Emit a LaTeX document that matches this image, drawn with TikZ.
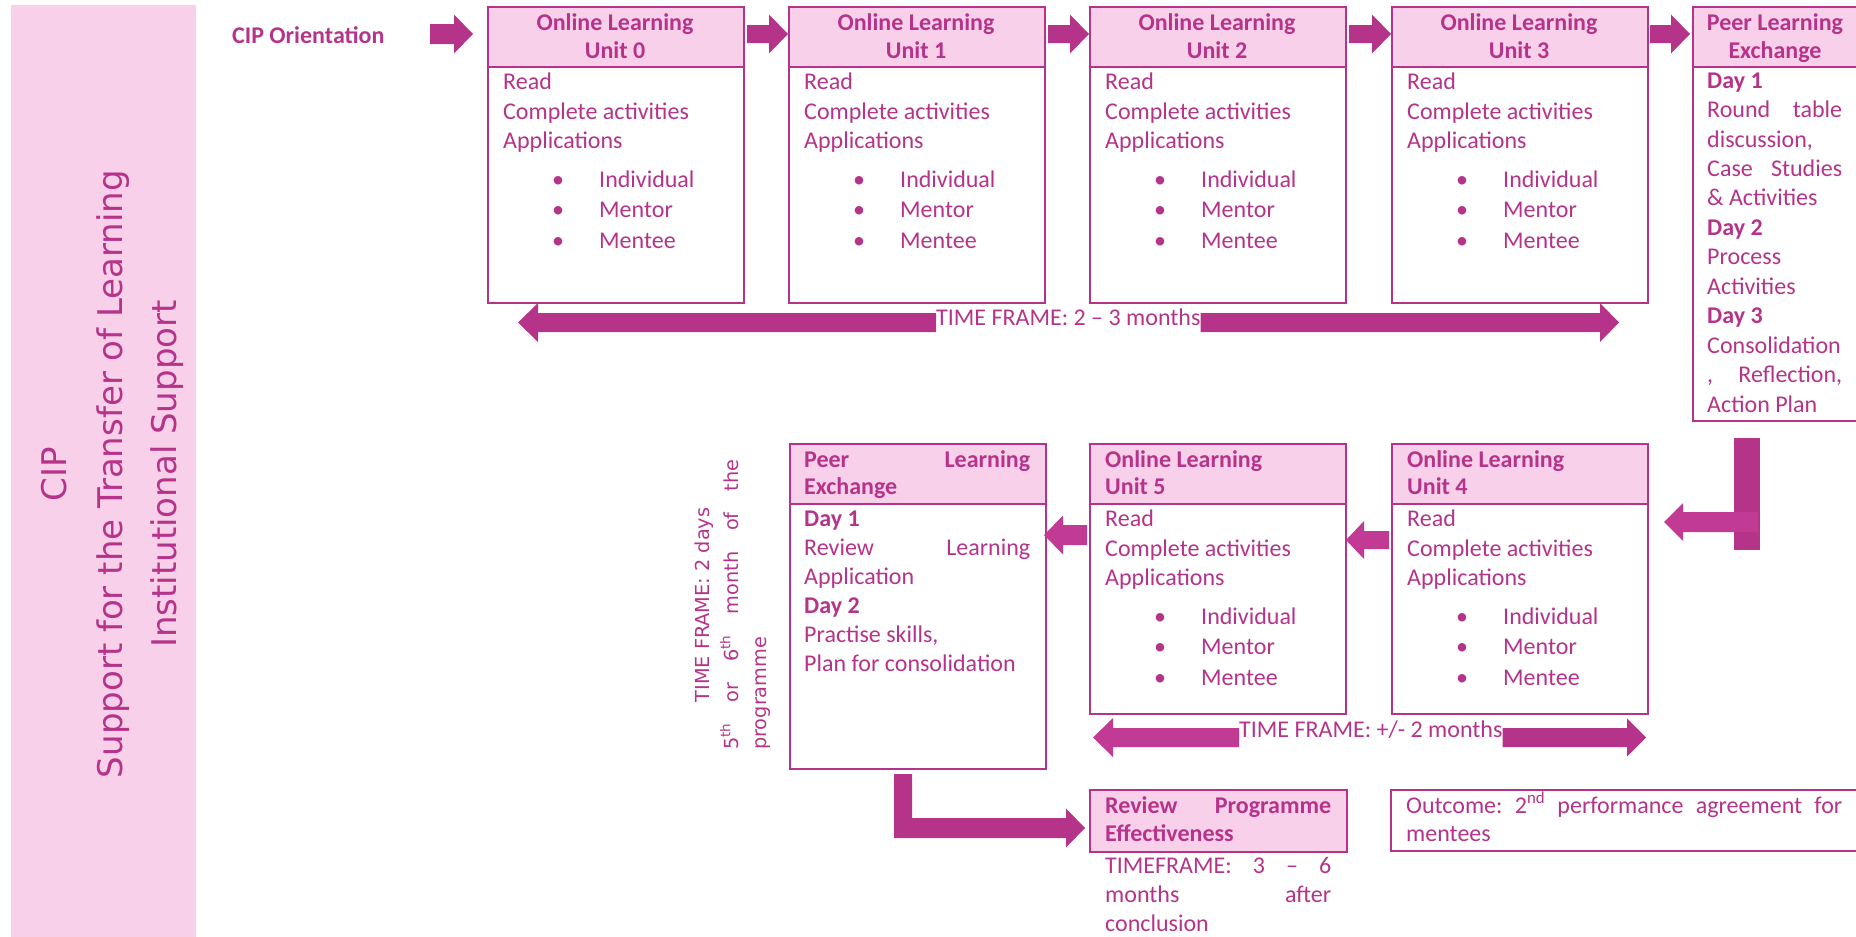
\documentclass[tikz,border=0pt]{standalone}
\usepackage{fontspec}
\setmainfont{Carlito}
\newfontfamily\vfont{DejaVu Sans}
\usetikzlibrary{calc}
\definecolor{mag}{RGB}{181,52,138}
\definecolor{magL}{RGB}{193,58,148}
\definecolor{pinkf}{RGB}{248,208,234}
\tikzset{
  boxbody/.style={draw=mag, line width=2pt, fill=white, rectangle, inner sep=0pt, minimum width=256pt, anchor=north west},
  boxhead/.style={draw=mag, line width=2pt, fill=pinkf, rectangle, inner sep=0pt, minimum width=256pt, minimum height=60pt, anchor=north west},
  txt/.style={text=mag, inner sep=0pt, font=\fontsize{24}{29}\selectfont, anchor=base west},
  btxt/.style={txt, font=\fontsize{24}{29}\selectfont\bfseries},
  sidetxt/.style={text=mag, inner sep=0pt, font=\vfont\fontsize{34}{40}\selectfont, rotate=90, anchor=base},
  vtxt/.style={text=mag, inner sep=0pt, font=\vfont\fontsize{19.3}{24}\selectfont, rotate=90, anchor=base west},
  arrA/.style={fill=mag},
  arrB/.style={fill=magL},
}
% #2 tail, #3 tip, #4 shaft half width, #5 head half width, #6 head length (negative = pointing left)
\newcommand\blockarrow[6][arrA]{\fill[#1] ($(#2)+(0,{-(#4)})$) -- ($(#3)+({-(#6)},{-(#4)})$) -- ($(#3)+({-(#6)},{-(#5)})$) -- (#3) -- ($(#3)+({-(#6)},{#5})$) -- ($(#3)+({-(#6)},{#4})$) -- ($(#2)+(0,{#4})$) -- cycle;}
\newcommand\unitbody[3]{%
  \node[txt] (#1r) at ({#2+16},{#3+83}) {Read};
  \node[txt] (#1c) at ({#2+16},{#3+113}) {Complete activities};
  \node[txt] (#1a) at ({#2+16},{#3+142}) {Applications};
  \node[txt,anchor=base] (#1b1) at ({#2+71},{#3+181}) {•};
  \node[txt] (#1i) at ({#2+112},{#3+181}) {Individual};
  \node[txt,anchor=base] (#1b2) at ({#2+71},{#3+211}) {•};
  \node[txt] (#1m) at ({#2+112},{#3+211}) {Mentor};
  \node[txt,anchor=base] (#1b3) at ({#2+71},{#3+242}) {•};
  \node[txt] (#1e) at ({#2+112},{#3+242}) {Mentee};
}
\begin{document}
\begin{tikzpicture}[x=1pt,y=-1pt]
\useasboundingbox (0,0) rectangle (1856,937);
\clip (0,0) rectangle (1856,937);

% side bar
\node[fill=pinkf, rectangle, inner sep=0pt, minimum width=185pt, minimum height=940pt, anchor=north west] (side) at (11,5) {};
\node[sidetxt] (sideA) at (66,474) {CIP};
\node[sidetxt] (sideB) at (122,474) {Support for the Transfer of Learning};
\node[sidetxt] (sideC) at (176,474) {Institutional Support};

\node[btxt] (cip) at (232,43) {CIP Orientation};

% top row units
\foreach \nm/\x/\k in {u0/487/0,u1/788/1,u2/1089/2,u3/1391/3}{
  \node[boxbody, minimum height=296pt] (\nm) at (\x,6) {};
  \node[boxhead] (\nm h) at (\x,6) {};
  \node[btxt, anchor=base] (\nm t1) at ({\x+128},30) {Online Learning};
  \node[btxt, anchor=base] (\nm t2) at ({\x+128},58) {Unit \k};
  \unitbody{\nm}{\x}{6}
}

% peer learning exchange (top)
\node[boxbody, minimum width=168pt, minimum height=414pt] (p1) at (1692,6) {};
\node[boxhead, minimum width=168pt] (p1h) at (1692,6) {};
\node[btxt, anchor=base] (p1t1) at (1775,30) {Peer Learning};
\node[btxt, anchor=base] (p1t2) at (1775,58) {Exchange};
\node[btxt] (p1d1) at (1707,88) {Day 1};
\node[txt] (p1l1) at (1707,117.5) {\hbox to 135pt{Round\hfill table}};
\node[txt] (p1l2) at (1707,147) {discussion,};
\node[txt] (p1l3) at (1707,176.4) {\hbox to 135pt{Case\hfill Studies}};
\node[txt] (p1l4) at (1707,205.8) {\& Activities};
\node[btxt] (p1d2) at (1707,235.3) {Day 2};
\node[txt] (p1l5) at (1707,264.7) {Process};
\node[txt] (p1l6) at (1707,294.2) {Activities};
\node[btxt] (p1d3) at (1707,323.6) {Day 3};
\node[txt] (p1l7) at (1707,353) {Consolidation};
\node[txt] (p1l8) at (1707,382.5) {\hbox to 135pt{,\hfill Reflection,}};
\node[txt] (p1l9) at (1707,412) {Action Plan};

% top row arrows
\coordinate (a1s) at ($(u0h.west)+(-57,-3)$);
\coordinate (a1e) at ($(u0h.west)+(-14,-3)$);
\blockarrow{a1s}{a1e}{10}{19.5}{19}
\foreach \a/\b in {u0/u1,u1/u2,u2/u3}{
  \coordinate (\a s) at ($(\a h.east)+(2,-3)$);
  \coordinate (\b e) at ($(\b h.west)+(0,-3)$);
  \blockarrow{\a s}{\b e}{9}{19.5}{19}
}
\coordinate (u3s) at ($(u3h.east)+(1,-3)$);
\coordinate (p1e) at ($(p1h.west)+(-2,-3)$);
\blockarrow{u3s}{p1e}{9}{19.5}{19}

% time frame top
\node[txt] (tf1) at (936,325) {TIME FRAME: 2 – 3 months};
\coordinate (tf1a) at ($(tf1.base west)+(0,-2.5)$);
\coordinate (tf1b) at ($(tf1.base west -| u0.west)+(31,-2.5)$);
\blockarrow{tf1a}{tf1b}{9.5}{19.5}{-20}
\coordinate (tf1c) at ($(tf1.base east)+(0,-2.5)$);
\coordinate (tf1d) at ($(tf1.base east -| u3.east)+(-30,-2.5)$);
\blockarrow{tf1c}{tf1d}{9.5}{19.5}{19}

% second row units
\node[boxbody, minimum height=270pt] (u4) at (1391,443) {};
\node[boxhead] (u4h) at (1391,443) {};
\node[btxt] (u4t1) at (1407,467) {Online Learning};
\node[btxt] (u4t2) at (1407,494) {Unit 4};
\unitbody{u4}{1391}{443}
\node[boxbody, minimum height=270pt] (u5) at (1089,443) {};
\node[boxhead] (u5h) at (1089,443) {};
\node[btxt] (u5t1) at (1105,467) {Online Learning};
\node[btxt] (u5t2) at (1105,494) {Unit 5};
\unitbody{u5}{1089}{443}

% peer learning exchange (second)
\node[boxbody, minimum height=325pt] (p2) at (789,443) {};
\node[boxhead] (p2h) at (789,443) {};
\node[btxt] (p2t1) at (804,467) {\hbox to 226pt{Peer\hfill Learning}};
\node[btxt] (p2t2) at (804,494) {Exchange};
\node[btxt] (p2d1) at (804,526) {Day 1};
\node[txt] (p2l1) at (804,555) {\hbox to 226pt{Review\hfill Learning}};
\node[txt] (p2l2) at (804,584) {Application};
\node[btxt] (p2d2) at (804,613) {Day 2};
\node[txt] (p2l3) at (804,642) {Practise skills,};
\node[txt] (p2l4) at (804,671) {Plan for consolidation};

% vertical time frame text
\node[vtxt, anchor=base] (vt1) at (709,605) {TIME FRAME: 2 days};
\node[vtxt] (vt2) at (738,750) {\hbox to 290pt{5\textsuperscript{th}\hfill or\hfill 6\textsuperscript{th}\hfill month\hfill of\hfill the}};
\node[vtxt] (vt3) at (766,750) {programme};

% bracket arrow from top peer box to unit 4
\fill[arrA] ($(p1.south)+(-43,16)$) rectangle ($(p1.south)+(-17,128)$);
\coordinate (br1) at ($(p1.south)+(-19,100)$);
\coordinate (br2) at ($(u4.east |- br1)+(15,0)$);
\blockarrow[arrB]{br1}{br2}{10}{19}{-19}

% second row arrows
\coordinate (r1s) at ($(u4.west)+(-2,-39)$);
\coordinate (r1e) at ($(u5.east)+(-1,-39)$);
\blockarrow[arrB]{r1s}{r1e}{9}{19}{-18}
\coordinate (r2s) at ($(u5.west)+(-2,-44)$);
\coordinate (r2e) at ($(p2.east)+(-3,-71.5)$);
\blockarrow[arrB]{r2s}{r2e}{10}{19.5}{-19}

% time frame second
\node[txt] (tf2) at (1239,737) {TIME FRAME: +/- 2 months};
\coordinate (tf2a) at ($(tf2.base west)+(0,0.5)$);
\coordinate (tf2b) at ($(tf2.base west -| u5.west)+(4,0.5)$);
\blockarrow[arrB]{tf2a}{tf2b}{9.5}{19.5}{-20}
\coordinate (tf2c) at ($(tf2.base east)+(0,0.5)$);
\coordinate (tf2d) at ($(tf2.base east -| u4.east)+(-3,0.5)$);
\blockarrow{tf2c}{tf2d}{9.5}{19}{19}

% review box
\node[boxhead, minimum width=257pt, minimum height=62pt] (rv) at (1089,789) {};
\node[btxt] (rvt1) at (1105,813) {\hbox to 226pt{Review\hfill Programme}};
\node[btxt] (rvt2) at (1105,841) {Effectiveness};
\node[txt] (rvl1) at (1105,873) {\hbox to 226pt{TIMEFRAME:\hfill 3\hfill –\hfill 6}};
\node[txt] (rvl2) at (1105,902) {\hbox to 226pt{months\hfill after}};
\node[txt] (rvl3) at (1105,931) {conclusion};

% L arrow peer 2 -> review
\coordinate (lA) at ($(p2.south)+(-24,4)$);
\coordinate (lB) at ($(p2.south)+(-6,4)$);
\coordinate (lT) at ($(rv.west)+(-4,7)$);
\fill[arrA] (lA) -- (lB) -- ($(lB |- lT)+(0,-10)$) -- ($(lT)+(-19,-10)$) -- ($(lT)+(-19,-19.5)$) -- (lT) -- ($(lT)+(-19,19.5)$) -- ($(lT)+(-19,10)$) -- ($(lA |- lT)+(0,10)$) -- cycle;

% outcome box
\node[boxbody, minimum width=470pt, minimum height=61pt] (oc) at (1390,789) {};
\node[txt] (oct1) at (1406,813) {\hbox to 436pt{Outcome:\hfill 2\textsuperscript{nd}\hfill performance\hfill agreement\hfill for}};
\node[txt] (oct2) at (1406,841) {mentees};
\end{tikzpicture}
\end{document}
